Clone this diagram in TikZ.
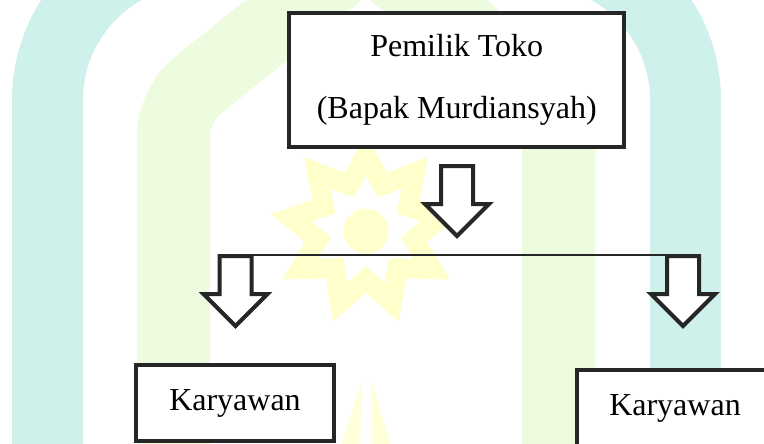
\documentclass[tikz,border=0pt]{standalone}
\usepackage{fontspec}
\setmainfont{Liberation Serif}
\definecolor{ink}{RGB}{38,38,38}
\definecolor{archteal}{RGB}{206,241,235}
\definecolor{archgreen}{RGB}{237,251,222}
\definecolor{staryellow}{RGB}{255,255,204}
\definecolor{spireyellow}{RGB}{255,255,218}
\begin{document}
\begin{tikzpicture}[x=0.75pt,y=-0.75pt,
  box/.style={draw=ink, line width=3pt, fill=white, inner sep=0pt,
    font=\fontsize{24}{46.5}\selectfont, align=center},
  link/.style={draw=ink, line width=1.6pt},
  pics/downarrow/.style={code={
    \draw[ink, line width=3pt, fill=white, line join=miter]
      (-16,0) -- (16,0) -- (16,38) -- (32,38) -- (0,70)
      -- (-32,38) -- (-16,38) -- cycle;}},
]
\useasboundingbox (0,0) rectangle (764,443);
\clip (0,0) rectangle (764,443);

% faint emblem in the background
\draw[archteal, line width=53.25pt]
  (47.5,470) -- (47.5,100) .. controls (47.5,17.2) and (114.7,-50) .. (197.5,-50)
  -- (535.5,-50) .. controls (618.3,-50) and (685.5,17.2) .. (685.5,100)
  -- (685.5,470);
\draw[archgreen, line width=54.75pt, rounded corners=22.5pt]
  (173.5,470) -- (173.5,105) -- (366,-50) -- (558.5,105) -- (558.5,470);
\begin{scope}[shift={(366,231)}]
  \draw[staryellow, line width=15pt, line join=miter]
    (-90:76) \foreach \k in {0,...,7}{ -- ({-70+40*\k}:48.7) -- ({-50+40*\k}:76) }
    -- (250:48.7) -- cycle;
  \fill[staryellow] (0,0) circle[radius=22.5];
\end{scope}
\fill[spireyellow] (361.7,380) -- (360,450) -- (340,450) -- cycle;
\fill[spireyellow] (371.7,380) -- (371.5,450) -- (392,450) -- cycle;

% organisation chart
\node[box, minimum width=251.6pt, minimum height=100.5pt] (owner) at (456.75,80)
  {Pemilik Toko\\(Bapak Murdiansyah)};
\node[box, minimum width=148.5pt, minimum height=57pt] (staffl) at (235,403) {Karyawan};
\node[box, minimum width=147pt, minimum height=57pt] (staffr) at (675,408) {Karyawan};

\coordinate (splitl) at (235.5,255);
\coordinate (splitr) at (683,255);
\draw[link] (splitl) -- (splitr);

\pic (down) at (457,166) {downarrow};
\pic (downl) at (235.5,256) {downarrow};
\pic (downr) at (683,256) {downarrow};
\end{tikzpicture}
\end{document}
